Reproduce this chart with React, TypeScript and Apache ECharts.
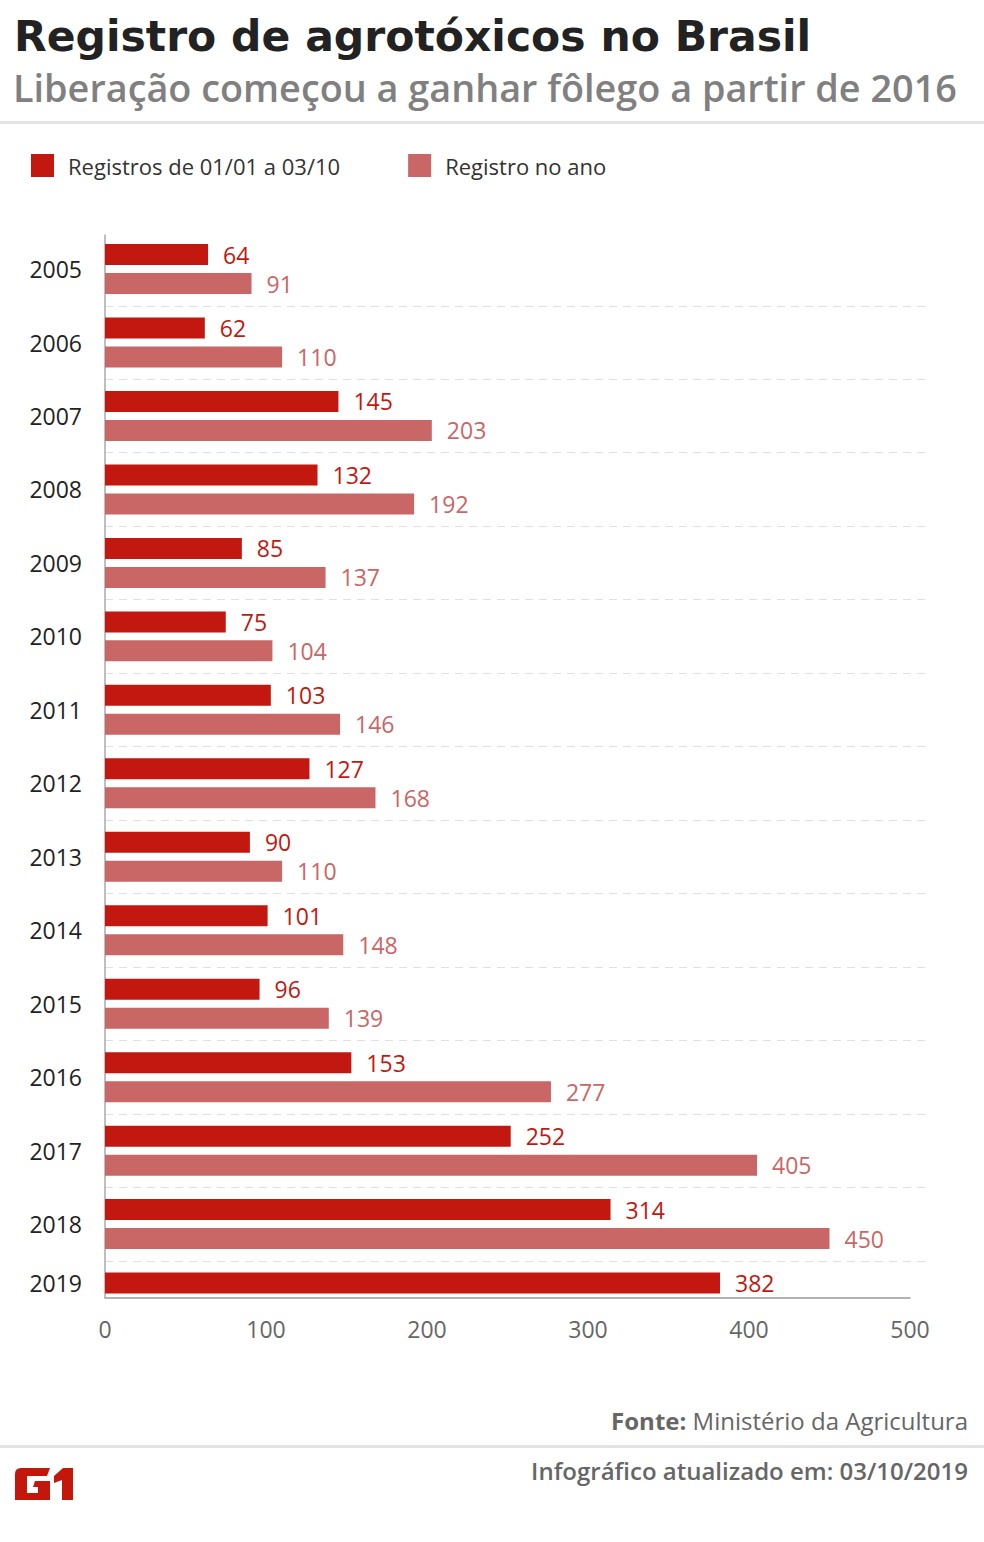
import React, { useEffect, useRef } from 'react';
import * as echarts from 'echarts';

const years = ['2005', '2006', '2007', '2008', '2009', '2010', '2011', '2012', '2013', '2014', '2015', '2016', '2017', '2018', '2019'];
const registrosParcial = [64, 62, 145, 132, 85, 75, 103, 127, 90, 101, 96, 153, 252, 314, 382];
const registrosAno = [91, 110, 203, 192, 137, 104, 146, 168, 110, 148, 139, 277, 405, 450, null];
const seriesNames = ['Registros de 01/01 a 03/10', 'Registro no ano'];
const xMin = 0;
const xMax = 500;
const xStep = 100;

const titleText = 'Registro de agrotóxicos no Brasil';
const subtitleText = 'Liberação começou a ganhar fôlego a partir de 2016';
const sourceLabel = 'Fonte:';
const sourceText = 'Ministério da Agricultura';
const updatedText = 'Infográfico atualizado em: 03/10/2019';

const RED = '#c2180f';
const PINK = '#c96666';
const OPEN = "'Open Sans', sans-serif";
const TITLE_FONT = "'DejaVu Sans', sans-serif";

const LOGO_D =
  'M6 0 L35 0 L32 8 L12 8 L12 25 L23 25 L23 19 L18 19 L20 13 L35 13 L35 32 L0 32 L0 6 Q0 0 6 0 Z ' +
  'M39 8 L48 0 L58 0 L58 32 L47 32 L47 12 L39 15 Z';
echarts.graphic.registerShape('g1logo', echarts.graphic.extendPath(LOGO_D, {}) as any);

export default function App() {
  const ref = useRef<HTMLDivElement>(null);

  useEffect(() => {
    const chart = echarts.init(ref.current!, null, { renderer: 'svg' });
    const BAND = 73.467;
    const GRID_TOP = 232.3;
    const GRID_H = BAND * years.length;
    const AXIS_Y = 1297.3;
    const AXIS_TOP = 235;

    const option: any = {
      animation: false,
      backgroundColor: '#ffffff',
      textStyle: { fontFamily: OPEN },
      legend: {
        left: 26,
        top: 149,
        itemWidth: 23,
        itemHeight: 23,
        itemGap: 68,
        icon: 'rect',
        data: seriesNames,
        textStyle: { fontFamily: OPEN, fontSize: 22, color: '#333333', padding: [0, 0, 0, 9] },
      },
      grid: [
        { left: 105, top: GRID_TOP, width: 805, height: GRID_H },
        { left: 105, top: GRID_TOP, width: 825, height: GRID_H },
        { left: 105, top: AXIS_TOP, width: 805, height: AXIS_Y - AXIS_TOP },
      ],
      xAxis: [
        {
          gridIndex: 0,
          type: 'value',
          min: xMin,
          max: xMax,
          interval: xStep,
          offset: AXIS_Y - (GRID_TOP + GRID_H),
          axisLine: { show: true, onZero: false, lineStyle: { color: '#9a9a9a', width: 1.5 } },
          axisTick: { show: false },
          splitLine: { show: false },
          axisLabel: { fontSize: 23, color: '#666666', margin: 20, fontFamily: OPEN },
        },
        { gridIndex: 1, type: 'value', show: false, min: xMin, max: xMax },
        { gridIndex: 2, type: 'value', show: false, min: xMin, max: xMax },
      ],
      yAxis: [
        {
          gridIndex: 0,
          type: 'category',
          data: years,
          inverse: true,
          axisLine: { show: false },
          axisTick: { show: false },
          splitLine: { show: false },
          axisLabel: {
            fontSize: 23,
            color: '#222222',
            margin: 23,
            lineHeight: 29,
            fontFamily: OPEN,
            formatter: (v: string) => {
              const i = years.indexOf(v);
              return registrosAno[i] == null ? v + '\n ' : v;
            },
          },
        },
        {
          gridIndex: 1,
          type: 'category',
          data: years,
          inverse: true,
          axisLine: { show: false },
          axisTick: { show: false },
          axisLabel: { show: false },
          splitLine: {
            show: true,
            showMinLine: false,
            showMaxLine: false,
            lineStyle: { color: '#e0e0e0', type: [8, 6], width: 1 },
          },
        },
        {
          gridIndex: 2,
          type: 'value',
          min: 0,
          max: 1,
          axisLine: { show: true, lineStyle: { color: '#aaaaaa', width: 1.5 } },
          axisTick: { show: false },
          axisLabel: { show: false },
          splitLine: { show: false },
        },
      ],
      series: [
        {
          type: 'bar',
          name: seriesNames[0],
          xAxisIndex: 0,
          yAxisIndex: 0,
          data: registrosParcial,
          barWidth: 21,
          barGap: '38%',
          itemStyle: { color: RED },
          label: { show: true, position: 'right', distance: 15, color: RED, fontSize: 23, fontFamily: OPEN },
        },
        {
          type: 'bar',
          name: seriesNames[1],
          xAxisIndex: 0,
          yAxisIndex: 0,
          data: registrosAno,
          barWidth: 21,
          barGap: '38%',
          itemStyle: { color: PINK },
          label: { show: true, position: 'right', distance: 15, color: PINK, fontSize: 23, fontFamily: OPEN },
        },
      ],
      graphic: [
        {
          type: 'text',
          left: 14,
          top: 15,
          style: { text: titleText, fontFamily: TITLE_FONT, fontWeight: 'bold', fontSize: 42.5, fill: '#222222' },
        },
        {
          type: 'text',
          left: 13,
          top: 68,
          style: { text: subtitleText, fontFamily: OPEN, fontWeight: 600, fontSize: 37.8, fill: '#808080' },
        },
        { type: 'rect', left: 0, top: 121, shape: { width: 984, height: 3 }, style: { fill: '#e3e3e3' } },
        {
          type: 'text',
          right: 16,
          top: 1408,
          style: {
            text: '{b|' + sourceLabel + '} ' + sourceText,
            fontFamily: OPEN,
            fontSize: 24,
            fill: '#666666',
            rich: { b: { fontFamily: OPEN, fontSize: 24, fontWeight: 'bold', fill: '#666666' } },
          },
        },
        { type: 'rect', left: 0, top: 1445, shape: { width: 984, height: 3 }, style: { fill: '#e3e3e3' } },
        {
          type: 'text',
          right: 16,
          top: 1458,
          style: { text: updatedText, fontFamily: OPEN, fontWeight: 600, fontSize: 24, fill: '#666666' },
        },
        { type: 'g1logo', x: 15, y: 1468, style: { fill: '#c4170c' } },
      ],
    };

    chart.setOption(option);
    return () => chart.dispose();
  }, []);

  return <div ref={ref} style={{ position: 'absolute', left: 0, top: 0, width: 984, height: 1542, background: '#fff' }} />;
}
